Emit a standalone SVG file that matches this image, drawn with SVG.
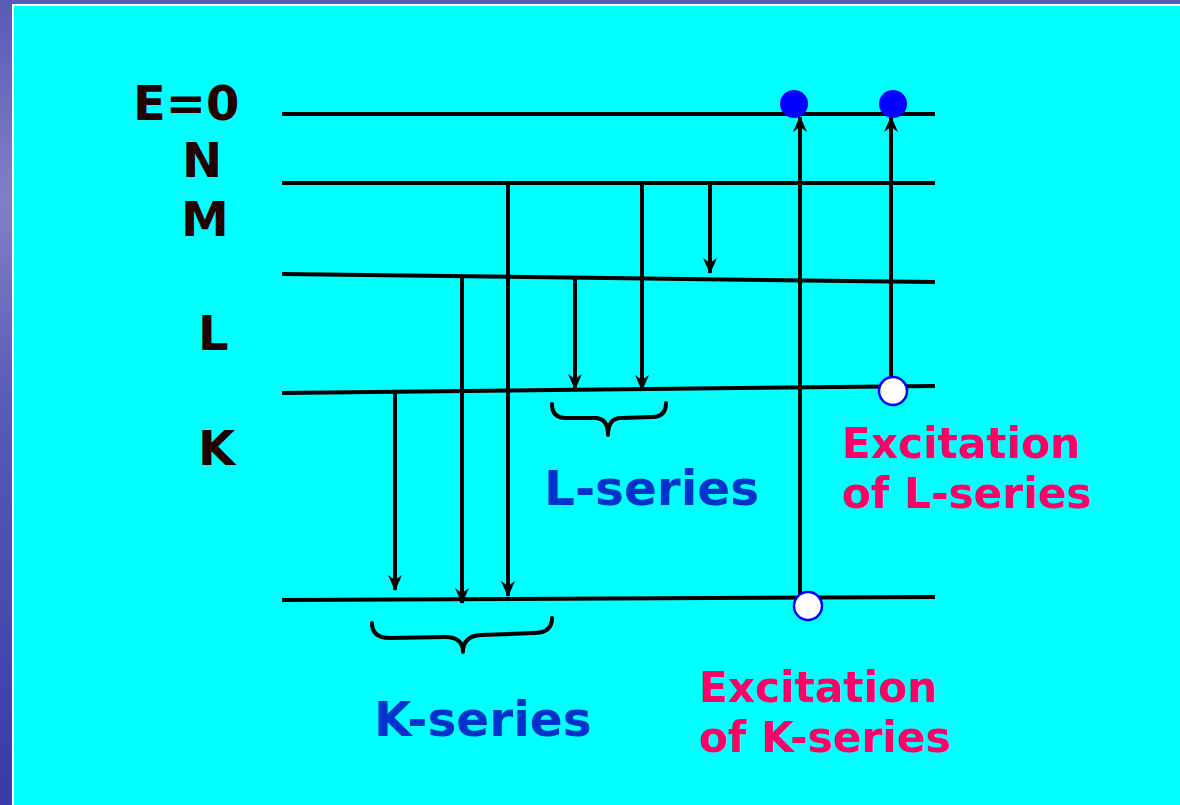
<svg xmlns="http://www.w3.org/2000/svg" width="1180" height="805" viewBox="0 0 1180 805">
<defs>
<linearGradient id="side" x1="0" y1="0" x2="0" y2="1">
<stop offset="0" stop-color="#5a5ab8"/>
<stop offset="0.25" stop-color="#8080c8"/>
<stop offset="0.5" stop-color="#5a5ab8"/>
<stop offset="1" stop-color="#3a3aa8"/>
</linearGradient>
<marker id="ah" viewBox="0 0 16 16" refX="15" refY="8" markerWidth="16" markerHeight="16" markerUnits="userSpaceOnUse" orient="auto">
<path d="M0,1 L16,8 L0,15 L5,8 Z" fill="#000"/>
</marker>
<style>
.lvl{stroke:#000;stroke-width:4;fill:none}
.arr{stroke:#000;stroke-width:4;fill:none;marker-end:url(#ah)}
.brace{stroke:#000;stroke-width:4;fill:none;stroke-linecap:round;stroke-linejoin:round}
.lab{font-family:"DejaVu Sans",Verdana,sans-serif;font-weight:bold;font-size:48px;fill:#200000}
.ser{font-family:"DejaVu Sans",Verdana,sans-serif;font-weight:bold;font-size:48.5px;fill:#0033cc}
.exc{font-family:"DejaVu Sans",Verdana,sans-serif;font-weight:bold;font-size:42.3px;fill:#ff0066}
.full{fill:#0000ff}
.hole{fill:#fff;stroke:#0000ff;stroke-width:2.5}
</style>
</defs>
<rect x="0" y="0" width="1180" height="805" fill="url(#side)"/>
<rect x="12" y="4" width="1168" height="801" fill="#ffffff"/>
<rect x="14" y="6" width="1166" height="799" fill="#00ffff"/>

<g id="levels">
<line class="lvl" x1="282" y1="114" x2="935" y2="114"/>
<line class="lvl" x1="282" y1="183" x2="935" y2="183"/>
<line class="lvl" x1="282" y1="274" x2="935" y2="282"/>
<line class="lvl" x1="282" y1="393" x2="935" y2="386"/>
<line class="lvl" x1="282" y1="600" x2="935" y2="597"/>
</g>

<g id="labels">
<text class="lab" x="133" y="120">E=0</text>
<text class="lab" x="182" y="177">N</text>
<text class="lab" x="181" y="236">M</text>
<text class="lab" x="198" y="350">L</text>
<text class="lab" x="198" y="465">K</text>
</g>

<g id="connectors">
<line class="arr" x1="395" y1="392" x2="395" y2="590"/>
<line class="arr" x1="462" y1="277" x2="462" y2="603"/>
<line class="arr" x1="508" y1="183" x2="508" y2="596"/>
<line class="arr" x1="575" y1="276" x2="575" y2="389"/>
<line class="arr" x1="642" y1="183" x2="642" y2="390"/>
<line class="arr" x1="710" y1="183" x2="710" y2="273"/>
<line class="arr" x1="800" y1="600" x2="800" y2="117"/>
<line class="arr" x1="891" y1="380" x2="891" y2="117"/>
</g>

<g id="electrons">
<circle class="full" cx="794" cy="104" r="14"/>
<circle class="full" cx="893" cy="104" r="14"/>
<circle class="hole" cx="893" cy="391" r="14"/>
<circle class="hole" cx="808" cy="606" r="14"/>
</g>

<g id="L-series">
<path class="brace" d="M552,404 Q552,418 566,418 L595,418 Q608,418 608,435 Q608,418 621,418 L652,417 Q666,417 666,403"/>
<text class="ser" x="544" y="505">L-series</text>
</g>

<g id="K-series">
<path class="brace" d="M372,623 Q372,638 390,638 L445,637 Q463,637 463,652 Q463,636 481,635 L534,633 Q552,633 552,618"/>
<text class="ser" x="374" y="736">K-series</text>
</g>

<g id="exc-L">
<text class="exc" x="842" y="458">Excitation</text>
<text class="exc" x="842" y="508">of L-series</text>
</g>

<g id="exc-K">
<text class="exc" x="699" y="702">Excitation</text>
<text class="exc" x="699" y="752">of K-series</text>
</g>
</svg>
